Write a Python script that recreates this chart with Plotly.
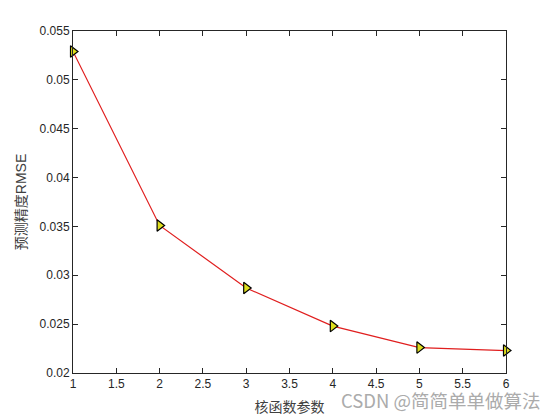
import plotly.graph_objs as go

# ---------- data ----------
kernel_param = [1, 2, 3, 4, 5, 6]
rmse = [0.0529, 0.0351, 0.0287, 0.0248, 0.0226, 0.0223]

x_ticks = [1, 1.5, 2, 2.5, 3, 3.5, 4, 4.5, 5, 5.5, 6]
y_ticks = [0.02, 0.025, 0.03, 0.035, 0.04, 0.045, 0.05, 0.055]

font_family = "Liberation Sans, Arial, Noto Sans CJK SC, sans-serif"

fig = go.Figure()
fig.add_trace(
    go.Scatter(
        x=kernel_param,
        y=rmse,
        mode="lines+markers",
        line=dict(color="#e01e1e", width=1.2),
        marker=dict(symbol="triangle-right", size=10, color="#dede1e",
                    line=dict(color="black", width=1.2)),
        cliponaxis=False,
        showlegend=False,
    )
)

axis_common = dict(
    showline=True, linecolor="#262626", linewidth=1, mirror="ticks",
    ticks="inside", ticklen=5, tickcolor="#262626", showgrid=False,
    zeroline=False, tickfont=dict(size=12, color="#262626"),
)

fig.update_xaxes(range=[1, 6], tickvals=x_ticks,
                 ticktext=[f"{v:g}" for v in x_ticks],
                 title=dict(text="核函数参数", standoff=11,
                            font=dict(size=14, color="#404040")),
                 **axis_common)
fig.update_yaxes(range=[0.02, 0.055], tickvals=y_ticks,
                 ticktext=[f"{v:g}" for v in y_ticks],
                 title=dict(text="预测精度RMSE", standoff=9,
                            font=dict(size=14, color="#404040")),
                 **axis_common)

# watermark, sits just under the x tick labels like in the source image
fig.add_annotation(
    text="CSDN @简简单单做算法", xref="paper", yref="paper",
    x=1.0855, y=-0.078, xanchor="right", yanchor="middle", showarrow=False,
    font=dict(size=18.5, color="#ababab", family="Noto Sans CJK SC, sans-serif"),
)

# page body has an 8px margin, so margins are offset to line up the plot box
fig.update_layout(
    width=560, height=420,
    margin=dict(l=65, r=62, t=23, b=55),
    paper_bgcolor="white", plot_bgcolor="white",
    font=dict(family=font_family, color="#262626"),
)

fig.write_html("out.html")
